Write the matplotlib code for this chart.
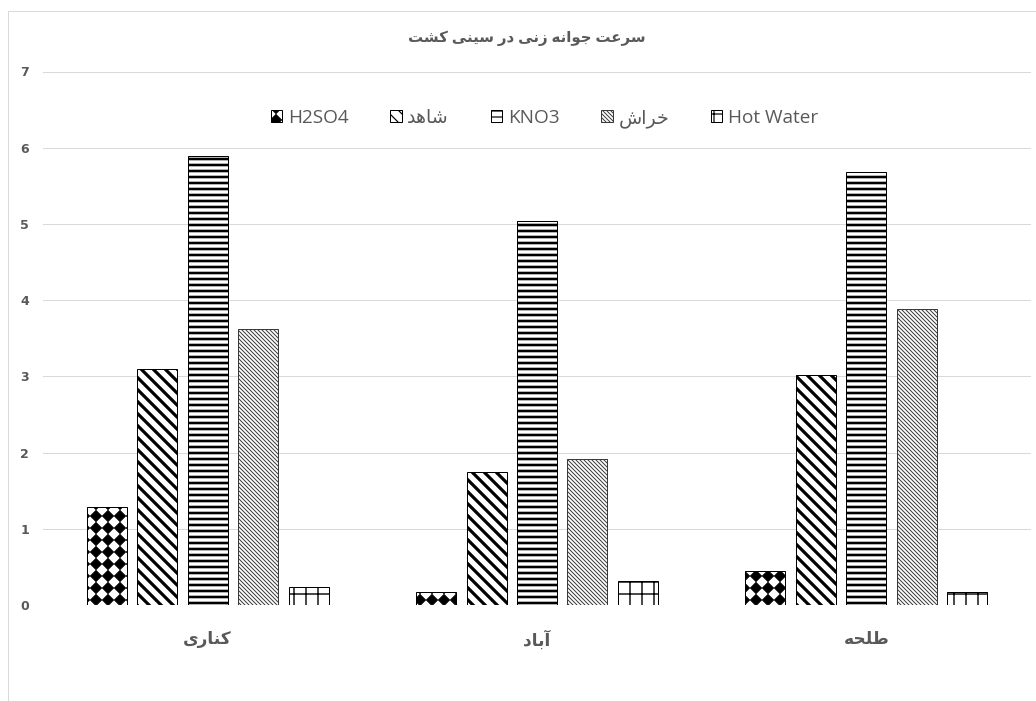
import warnings
import numpy as np
import matplotlib
matplotlib.use('Agg')
import matplotlib.pyplot as plt
import matplotlib.hatch as mhatch
from matplotlib.path import Path
from matplotlib.patches import Rectangle

warnings.filterwarnings('ignore')

categories = ['کناری', 'آباد', 'طلحه']
series = ['H2SO4', 'شاهد', 'KNO3', 'خراش', 'Hot Water']
h2so4 = [1.29, 0.17, 0.45]
shahed = [3.09, 1.75, 3.02]
kno3 = [5.89, 5.04, 5.68]
kharash = [3.62, 1.91, 3.89]
hot_water = [0.24, 0.32, 0.17]
values = [h2so4, shahed, kno3, kharash, hot_water]
yticks = [0, 1, 2, 3, 4, 5, 6, 7]
title = 'سرعت جوانه زنی در سینی کشت'

# presentation forms: isolated, final, initial, medial
forms = {
    'ا': ('\uFE8D', '\uFE8E', None, None),
    'آ': ('\uFE81', '\uFE82', None, None),
    'ب': ('\uFE8F', '\uFE90', '\uFE91', '\uFE92'),
    'ت': ('\uFE95', '\uFE96', '\uFE97', '\uFE98'),
    'ج': ('\uFE9D', '\uFE9E', '\uFE9F', '\uFEA0'),
    'ح': ('\uFEA1', '\uFEA2', '\uFEA3', '\uFEA4'),
    'خ': ('\uFEA5', '\uFEA6', '\uFEA7', '\uFEA8'),
    'د': ('\uFEA9', '\uFEAA', None, None),
    'ر': ('\uFEAD', '\uFEAE', None, None),
    'ز': ('\uFEAF', '\uFEB0', None, None),
    'س': ('\uFEB1', '\uFEB2', '\uFEB3', '\uFEB4'),
    'ش': ('\uFEB5', '\uFEB6', '\uFEB7', '\uFEB8'),
    'ط': ('\uFEC1', '\uFEC2', '\uFEC3', '\uFEC4'),
    'ع': ('\uFEC9', '\uFECA', '\uFECB', '\uFECC'),
    'ک': ('\uFB8E', '\uFB8F', '\uFB90', '\uFB91'),
    'ل': ('\uFEDD', '\uFEDE', '\uFEDF', '\uFEE0'),
    'ن': ('\uFEE5', '\uFEE6', '\uFEE7', '\uFEE8'),
    'ه': ('\uFEE9', '\uFEEA', '\uFEEB', '\uFEEC'),
    'و': ('\uFEED', '\uFEEE', None, None),
    'ی': ('\uFBFC', '\uFBFD', '\uFBFE', '\uFBFF'),
}


def shape(text):
    # join persian letters and put them in visual order
    if not any(ch in forms for ch in text):
        return text
    out = []
    for i, ch in enumerate(text):
        if ch not in forms:
            out.append(ch)
            continue
        prev = text[i - 1] if i > 0 else ''
        nxt = text[i + 1] if i + 1 < len(text) else ''
        jp = prev in forms and forms[prev][2] is not None
        jn = nxt in forms and forms[ch][2] is not None
        iso, fin, ini, med = forms[ch]
        if jp and jn:
            out.append(med)
        elif jp:
            out.append(fin)
        elif jn:
            out.append(ini)
        else:
            out.append(iso)
    return ''.join(reversed(out))


class Diamonds(mhatch.HatchPatternBase):
    # checker of black diamonds, 'd' in the hatch string
    def __init__(self, hatch, density):
        self.num_rows = hatch.count('d') * density
        self.num_vertices = (self.num_rows + 1) ** 2 * 5 if self.num_rows else 0

    def set_vertices_and_codes(self, vertices, codes):
        step = 1.0 / self.num_rows
        r = step * 0.47
        d = np.array([[0, r], [-r, 0], [0, -r], [r, 0], [0, r]])
        grid = np.arange(self.num_rows + 1) * step
        k = 0
        for yy in grid:
            for xx in grid:
                vertices[k:k + 5] = d + [xx, yy]
                codes[k:k + 5] = [Path.MOVETO, Path.LINETO, Path.LINETO,
                                  Path.LINETO, Path.CLOSEPOLY]
                k += 5


mhatch._hatch_types.append(Diamonds)

plt.rcParams['font.family'] = ['Open Sans', 'DejaVu Sans']
grey = '#595959'

fig = plt.figure(figsize=(1036 / 72, 701 / 72), dpi=72)
ax = fig.add_axes([43 / 1036, 96 / 701, 988 / 1036, 533.5 / 701])

fig.patches.append(Rectangle((7.5 / 1036, -0.1), 1.2, 1.1 - 10.5 / 701,
                             transform=fig.transFigure, fill=False,
                             edgecolor='#d9d9d9', linewidth=1))

hatches = ['d', '\\\\', '--', '\\' * 6, '+']
hatch_lw = [0.8, 3.2, 2.6, 1.0, 1.4]
colors = ['black', 'black', 'black', '#3a3a3a', 'black']
x = np.arange(len(categories))
width = 0.1215
step = 0.1533

for i, (name, vals) in enumerate(zip(series, values)):
    plt.rcParams['hatch.linewidth'] = hatch_lw[i]
    bars = ax.bar(x + (i - 2) * step, vals, width, facecolor='white',
                  edgecolor=colors[i], linewidth=1, hatch=hatches[i],
                  label=shape(name), zorder=3)
    for b in bars:
        if hasattr(b, 'set_hatch_linewidth'):
            b.set_hatch_linewidth(hatch_lw[i])

ax.set_xlim(-0.5, 2.5)
ax.set_ylim(0, 7)
ax.set_yticks(yticks)
ax.set_yticklabels([str(t) for t in yticks], fontfamily='DejaVu Sans',
                   fontweight='bold', fontsize=12.5, color=grey)
ax.set_xticks(x)
ax.set_xticklabels([shape(c) for c in categories], fontweight='bold',
                   fontsize=17, color=grey)
ax.tick_params(axis='x', length=0, pad=25)
ax.tick_params(axis='y', length=0, pad=14)
ax.grid(axis='y', color='#d9d9d9', linewidth=1, zorder=0)
for s in ax.spines.values():
    s.set_visible(False)

leg = ax.legend(ncol=5, loc='center', bbox_to_anchor=(0.5076, 0.912),
                frameon=False, fontsize=19, handlelength=0.6, handleheight=0.6,
                handletextpad=0.3, columnspacing=2.2, labelcolor=grey)
for h, lw in zip(leg.legend_handles, hatch_lw):
    if hasattr(h, 'set_hatch_linewidth'):
        h.set_hatch_linewidth(min(lw, 1.2))

fig.text(527 / 1036, 1 - 38 / 701, shape(title), ha='center', va='center',
         fontsize=15, fontweight='bold', color=grey)

fig.savefig('out.png', dpi=72)
